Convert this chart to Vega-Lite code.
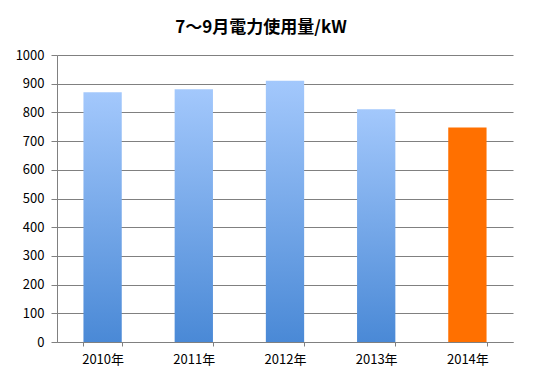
{
  "$schema": "https://vega.github.io/schema/vega-lite/v6.json",
  "autosize": "none",
  "width": 456,
  "height": 287,
  "padding": {"left": 57, "top": 55, "right": 23, "bottom": 43},
  "background": "white",
  "title": {
    "text": "7〜9月電力使用量/kW",
    "font": "Noto Sans CJK JP",
    "fontSize": 17,
    "fontWeight": "bold",
    "color": "#000000",
    "anchor": "middle",
    "dx": -24,
    "offset": 12
  },
  "data": {
    "values": [
      {"year": "2010年", "kw": 870, "highlight": "no"},
      {"year": "2011年", "kw": 881, "highlight": "no"},
      {"year": "2012年", "kw": 910, "highlight": "no"},
      {"year": "2013年", "kw": 811, "highlight": "no"},
      {"year": "2014年", "kw": 747, "highlight": "yes"}
    ]
  },
  "encoding": {
    "x": {
      "field": "year",
      "type": "nominal",
      "sort": null,
      "scale": {"paddingInner": 0.58, "paddingOuter": 0.29},
      "axis": {
        "title": null,
        "labelAngle": 0,
        "labelFont": "Noto Sans CJK JP",
        "labelFontSize": 13,
        "labelColor": "#000000",
        "labelPadding": 7,
        "tickBand": "extent",
        "tickSize": 4,
        "tickColor": "#808080",
        "domainColor": "#808080",
        "grid": false
      }
    },
    "y": {
      "field": "kw",
      "type": "quantitative",
      "scale": {"domain": [0, 1000]},
      "axis": {
        "title": null,
        "format": "d",
        "values": [0, 100, 200, 300, 400, 500, 600, 700, 800, 900, 1000],
        "labelFont": "Noto Sans CJK JP",
        "labelFontSize": 13,
        "labelColor": "#000000",
        "labelPadding": 7,
        "tickSize": 6,
        "tickColor": "#808080",
        "domainColor": "#808080",
        "grid": true,
        "gridColor": "#808080",
        "gridOpacity": 1
      }
    }
  },
  "layer": [
    {
      "transform": [{"filter": "datum.highlight == 'no'"}],
      "mark": {
        "type": "bar",
        "color": {
          "gradient": "linear",
          "x1": 0, "y1": 0, "x2": 0, "y2": 1,
          "stops": [
            {"offset": 0, "color": "#a3c8fc"},
            {"offset": 1, "color": "#4a89d6"}
          ]
        }
      }
    },
    {
      "transform": [{"filter": "datum.highlight == 'yes'"}],
      "mark": {"type": "bar", "color": "#ff7000"}
    }
  ],
  "config": {"view": {"stroke": null}}
}
